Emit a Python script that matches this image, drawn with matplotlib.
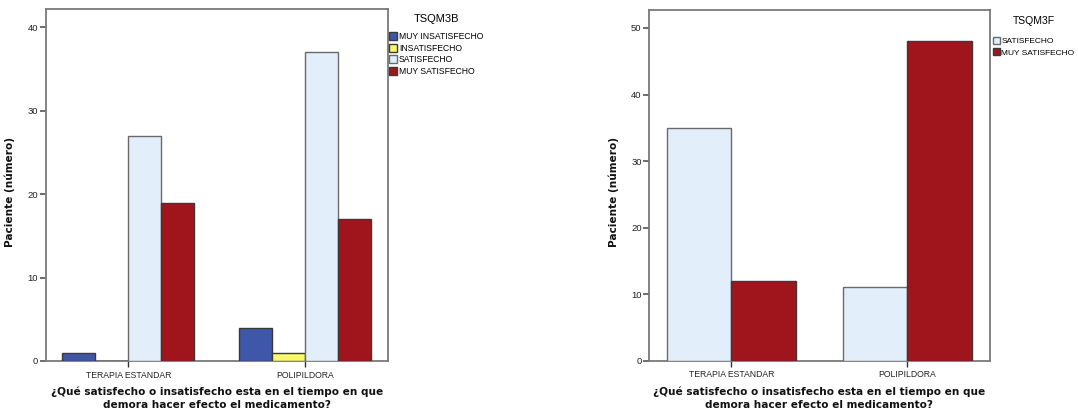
import matplotlib
matplotlib.use("Agg")
import matplotlib.pyplot as plt
import numpy as np
from matplotlib.patches import Patch

# ---- data ----
groups = ["TERAPIA ESTANDAR", "POLIPILDORA"]

left_title = "TSQM3B"
left_series = ["MUY INSATISFECHO", "INSATISFECHO", "SATISFECHO", "MUY SATISFECHO"]
left_muy_insat = [1, 4]
left_insat = [0, 1]
left_sat = [27, 37]
left_muy_sat = [19, 17]
left_yticks = [0, 10, 20, 30, 40]

right_title = "TSQM3F"
right_series = ["SATISFECHO", "MUY SATISFECHO"]
right_sat = [35, 11]
right_muy_sat = [12, 48]
right_yticks = [0, 10, 20, 30, 40, 50]

xlabel = "¿Qué satisfecho o insatisfecho esta en el tiempo en que\ndemora hacer efecto el medicamento?"
ylabel = "Paciente (número)"

# ---- style ----
C_BLUE = "#3E57A9"
C_YEL = "#FAF86E"
C_LBLUE = "#E2EEF9"
C_RED = "#A0141B"
EDGE = "#3a3a3a"
FRAME = "#7a7a7a"
SMALL = ["Liberation Sans", "DejaVu Sans"]
BOLD = ["DejaVu Sans"]

W, H = 1078, 413
fig = plt.figure(figsize=(W / 100, H / 100), dpi=100)


def px_axes(x0, y0, x1, y1):
    return fig.add_axes([x0 / W, 1 - y1 / H, (x1 - x0) / W, (y1 - y0) / H])


def style_axes(ax, yticks, ymax):
    ax.set_xlim(-0.467, 1.467)
    ax.set_ylim(0, ymax)
    ax.set_xticks(range(len(groups)))
    ax.set_xticklabels(groups, fontfamily=SMALL, fontsize=6.2, color="#222222")
    ax.set_yticks(yticks)
    ax.set_yticklabels([str(v) for v in yticks], fontfamily=SMALL, fontsize=6.8, color="#222222")
    ax.tick_params(axis="y", direction="out", length=4.5, width=1.2, color="#555555", pad=1)
    ax.tick_params(axis="x", direction="out", length=4, width=1.0, color="#333333", pad=3)
    for s in ax.spines.values():
        s.set_color(FRAME)
        s.set_linewidth(1.3)
    ax.set_xlabel(xlabel, fontfamily=BOLD, fontweight="bold", fontsize=7.6,
                  linespacing=1.35, labelpad=5, color="#111111")
    ax.set_ylabel(ylabel, fontfamily=BOLD, fontweight="bold", fontsize=7.6,
                  color="#111111")
    ax.yaxis.set_label_coords(-0.089, 0.48)


x = np.arange(len(groups))

# ---- left chart ----
axL = px_axes(45.7, 9, 387.7, 361)
wL = 0.187
left_vals = [left_muy_insat, left_insat, left_sat, left_muy_sat]
left_cols = [C_BLUE, C_YEL, C_LBLUE, C_RED]
left_edges = [EDGE, EDGE, "#6a6a6a", EDGE]
n = len(left_vals)
for i, (vals, c, ec) in enumerate(zip(left_vals, left_cols, left_edges)):
    axL.bar(x + (i - (n - 1) / 2) * wL, vals, width=wL, color=c,
            edgecolor=ec, linewidth=1.0, zorder=3)
style_axes(axL, left_yticks, 42.2)
handlesL = [Patch(facecolor=c, edgecolor=ec, linewidth=1.0) for c, ec in zip(left_cols, left_edges)]
legL = axL.legend(handlesL, left_series, loc="upper left",
                  bbox_to_anchor=(389 / W, 1 - 14 / H), bbox_transform=fig.transFigure,
                  frameon=False, title=left_title,
                  prop={"family": SMALL, "size": 6.2},
                  title_fontproperties={"family": SMALL, "size": 8},
                  handlelength=0.95, handleheight=1.05, handletextpad=0.2,
                  labelspacing=0.28, borderpad=0, borderaxespad=0)
legL._legend_box.sep = 6

# ---- right chart ----
axR = px_axes(649.3, 10, 989.5, 360.7)
wR = 0.368
right_vals = [right_sat, right_muy_sat]
right_cols = [C_LBLUE, C_RED]
right_edges = ["#6a6a6a", EDGE]
n = len(right_vals)
for i, (vals, c, ec) in enumerate(zip(right_vals, right_cols, right_edges)):
    axR.bar(x + (i - (n - 1) / 2) * wR, vals, width=wR, color=c,
            edgecolor=ec, linewidth=1.0, zorder=3)
style_axes(axR, right_yticks, 52.7)
handlesR = [Patch(facecolor=c, edgecolor=ec, linewidth=1.0) for c, ec in zip(right_cols, right_edges)]
legR = axR.legend(handlesR, right_series, loc="upper left",
                  bbox_to_anchor=(993 / W, 1 - 16 / H), bbox_transform=fig.transFigure,
                  frameon=False, title=right_title,
                  prop={"family": SMALL, "size": 6.0},
                  title_fontproperties={"family": SMALL, "size": 7.5},
                  handlelength=0.8, handleheight=0.9, handletextpad=0.2,
                  labelspacing=0.35, borderpad=0, borderaxespad=0)
legR._legend_box.sep = 8

fig.savefig("out.png", dpi=100, facecolor="white")
